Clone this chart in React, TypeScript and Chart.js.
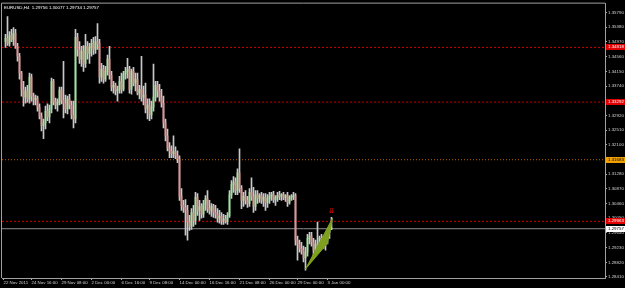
import React, { useEffect, useRef } from "react";
import { Chart, registerables } from "chart.js";
Chart.register(...registerables);

const SYMBOL = "EURUSD,H4";

// H4 bars, index 1..164
const OPEN = [
  1.3498, 1.3507, 1.3493, 1.3515, 1.3504, 1.3521, 1.3485, 1.3457, 1.3410, 1.3365,
  1.3343, 1.3360, 1.3338, 1.3399, 1.3346, 1.3335, 1.3340, 1.3315, 1.3290, 1.3263,
  1.3271, 1.3304, 1.3288, 1.3310, 1.3387, 1.3332, 1.3321, 1.3329, 1.3363, 1.3335,
  1.3326, 1.3310, 1.3338, 1.3321, 1.3293, 1.3282, 1.3510, 1.3476, 1.3449, 1.3471,
  1.3437, 1.3485, 1.3465, 1.3482, 1.3493, 1.3476, 1.3498, 1.3493, 1.3399, 1.3421,
  1.3393, 1.3415, 1.3449, 1.3404, 1.3371, 1.3376, 1.3360, 1.3365, 1.3387, 1.3365,
  1.3407, 1.3415, 1.3421, 1.3365, 1.3415, 1.3382, 1.3393, 1.3354, 1.3365, 1.3343,
  1.3349, 1.3310, 1.3321, 1.3293, 1.3315, 1.3343, 1.3376, 1.3360, 1.3343, 1.3326,
  1.3271, 1.3235, 1.3202, 1.3193, 1.3185, 1.3191, 1.3179, 1.3171, 1.3066, 1.3041,
  1.3035, 1.3027, 1.2994, 1.2982, 1.3021, 1.2999, 1.3063, 1.3027, 1.3038, 1.3016,
  1.3044, 1.3060, 1.3032, 1.3027, 1.3038, 1.3021, 1.3016, 1.3005, 1.3010, 1.2999,
  1.3002, 1.2996, 1.3013, 1.3071, 1.3099, 1.3105, 1.3082, 1.3132, 1.3088, 1.3055,
  1.3066, 1.3055, 1.3046, 1.3077, 1.3066, 1.3038, 1.3071, 1.3060, 1.3068, 1.3055,
  1.3063, 1.3049, 1.3060, 1.3066, 1.3071, 1.3057, 1.3063, 1.3068, 1.3066, 1.3071,
  1.3063, 1.3068, 1.3049, 1.3063, 1.3066, 1.3068, 1.2944, 1.2933, 1.2921, 1.2916,
  1.2894, 1.2910, 1.2949, 1.2955, 1.2938, 1.2916, 1.2933, 1.2927, 1.2949, 1.2944,
  1.2930, 1.2955, 1.2966, 1.29756,
];
const HIGH = [
  1.3518, 1.3568, 1.3526, 1.3532, 1.3537, 1.3532, 1.3493, 1.3465, 1.3415, 1.3387,
  1.3371, 1.3376, 1.3410, 1.3407, 1.3354, 1.3349, 1.3346, 1.3324, 1.3299, 1.3282,
  1.3318, 1.3324, 1.3321, 1.3396, 1.3393, 1.3340, 1.3338, 1.3371, 1.3371, 1.3443,
  1.3349, 1.3346, 1.3351, 1.3332, 1.3332, 1.3532, 1.3521, 1.3498, 1.3485, 1.3487,
  1.3518, 1.3498, 1.3493, 1.3504, 1.3510, 1.3512, 1.3548, 1.3504, 1.3437, 1.3432,
  1.3429, 1.3460, 1.3485, 1.3415, 1.3387, 1.3382, 1.3374, 1.3401, 1.3410, 1.3415,
  1.3426, 1.3451, 1.3429, 1.3421, 1.3426, 1.3410, 1.3410, 1.3376, 1.3457, 1.3374,
  1.3382, 1.3338, 1.3338, 1.3332, 1.3435, 1.3387, 1.3387, 1.3379, 1.3365, 1.3346,
  1.3282, 1.3254, 1.3216, 1.3207, 1.3235, 1.3204, 1.3193, 1.3179, 1.3088, 1.3055,
  1.3057, 1.3041, 1.3013, 1.3032, 1.3041, 1.3077, 1.3074, 1.3055, 1.3046, 1.3055,
  1.3068, 1.3082, 1.3055, 1.3046, 1.3044, 1.3041, 1.3032, 1.3027, 1.3021, 1.3016,
  1.3013, 1.3021, 1.3082, 1.3110, 1.3121, 1.3118, 1.3143, 1.3199, 1.3096, 1.3077,
  1.3082, 1.3066, 1.3088, 1.3118, 1.3091, 1.3082, 1.3082, 1.3074, 1.3077, 1.3074,
  1.3074, 1.3071, 1.3077, 1.3077, 1.3080, 1.3068, 1.3077, 1.3080, 1.3074, 1.3077,
  1.3071, 1.3077, 1.3068, 1.3071, 1.3077, 1.3074, 1.2955, 1.2944, 1.2938, 1.2927,
  1.2924, 1.2960, 1.2966, 1.2966, 1.2949, 1.2944, 1.2994, 1.2955, 1.2960, 1.2955,
  1.2963, 1.2971, 1.2982, 1.30077,
];
const LOW = [
  1.3482, 1.3487, 1.3485, 1.3498, 1.3487, 1.3479, 1.3443, 1.3393, 1.3346, 1.3318,
  1.3326, 1.3329, 1.3326, 1.3332, 1.3321, 1.3321, 1.3304, 1.3282, 1.3249, 1.3227,
  1.3254, 1.3277, 1.3271, 1.3299, 1.3321, 1.3310, 1.3304, 1.3321, 1.3324, 1.3285,
  1.3299, 1.3296, 1.3310, 1.3282, 1.3257, 1.3271, 1.3457, 1.3437, 1.3429, 1.3415,
  1.3426, 1.3449, 1.3437, 1.3457, 1.3462, 1.3465, 1.3476, 1.3382, 1.3387, 1.3382,
  1.3387, 1.3404, 1.3393, 1.3360, 1.3354, 1.3349, 1.3332, 1.3354, 1.3354, 1.3360,
  1.3393, 1.3396, 1.3354, 1.3351, 1.3374, 1.3360, 1.3349, 1.3338, 1.3332, 1.3321,
  1.3299, 1.3282, 1.3277, 1.3282, 1.3304, 1.3332, 1.3343, 1.3332, 1.3315, 1.3257,
  1.3221, 1.3193, 1.3174, 1.3174, 1.3174, 1.3171, 1.3160, 1.3055, 1.3027, 1.3021,
  1.2958, 1.2944, 1.2971, 1.2974, 1.2982, 1.2988, 1.3013, 1.2999, 1.3005, 1.3007,
  1.3027, 1.3021, 1.3016, 1.3010, 1.3007, 1.3005, 1.2994, 1.2991, 1.2988, 1.2988,
  1.2991, 1.2988, 1.3007, 1.3060, 1.3077, 1.3071, 1.3071, 1.3077, 1.3032, 1.3038,
  1.3044, 1.3035, 1.3038, 1.3055, 1.3021, 1.3027, 1.3046, 1.3049, 1.3046, 1.3038,
  1.3027, 1.3035, 1.3046, 1.3055, 1.3049, 1.3041, 1.3052, 1.3057, 1.3055, 1.3057,
  1.3052, 1.3038, 1.3044, 1.3055, 1.3057, 1.2930, 1.2888, 1.2910, 1.2905, 1.2883,
  1.2860, 1.2899, 1.2933, 1.2927, 1.2896, 1.2905, 1.2921, 1.2916, 1.2927, 1.2921,
  1.2916, 1.2933, 1.2949, 1.29734,
];
const CLOSE = [
  1.3507, 1.3493, 1.3515, 1.3504, 1.3521, 1.3485, 1.3457, 1.3410, 1.3365, 1.3343,
  1.3360, 1.3338, 1.3399, 1.3346, 1.3335, 1.3340, 1.3315, 1.3290, 1.3263, 1.3271,
  1.3304, 1.3288, 1.3310, 1.3387, 1.3332, 1.3321, 1.3329, 1.3363, 1.3335, 1.3326,
  1.3310, 1.3338, 1.3321, 1.3293, 1.3282, 1.3510, 1.3476, 1.3449, 1.3471, 1.3437,
  1.3485, 1.3465, 1.3482, 1.3493, 1.3476, 1.3498, 1.3493, 1.3399, 1.3421, 1.3393,
  1.3415, 1.3449, 1.3404, 1.3371, 1.3376, 1.3360, 1.3365, 1.3387, 1.3365, 1.3407,
  1.3415, 1.3421, 1.3365, 1.3415, 1.3382, 1.3393, 1.3354, 1.3365, 1.3343, 1.3349,
  1.3310, 1.3321, 1.3293, 1.3315, 1.3343, 1.3376, 1.3360, 1.3343, 1.3326, 1.3271,
  1.3235, 1.3202, 1.3193, 1.3185, 1.3191, 1.3179, 1.3171, 1.3066, 1.3041, 1.3035,
  1.3027, 1.2994, 1.2982, 1.3021, 1.2999, 1.3063, 1.3027, 1.3038, 1.3016, 1.3044,
  1.3060, 1.3032, 1.3027, 1.3038, 1.3021, 1.3016, 1.3005, 1.3010, 1.2999, 1.3002,
  1.2996, 1.3013, 1.3071, 1.3099, 1.3105, 1.3082, 1.3132, 1.3088, 1.3055, 1.3066,
  1.3055, 1.3046, 1.3077, 1.3066, 1.3038, 1.3071, 1.3060, 1.3068, 1.3055, 1.3063,
  1.3049, 1.3060, 1.3066, 1.3071, 1.3057, 1.3063, 1.3068, 1.3066, 1.3071, 1.3063,
  1.3068, 1.3049, 1.3063, 1.3066, 1.3068, 1.2944, 1.2933, 1.2921, 1.2916, 1.2894,
  1.2910, 1.2949, 1.2955, 1.2938, 1.2916, 1.2933, 1.2927, 1.2949, 1.2944, 1.2930,
  1.2955, 1.2966, 1.2977, 1.29757,
];

const TIME_TICK_IDX = [0, 14, 29, 44, 59, 73, 88, 103, 118, 133, 147, 162];
const TIME_LABELS = [
  "22 Nov 2011", "24 Nov 16:00", "29 Nov 08:00", "2 Dec 00:00", "6 Dec 16:00",
  "9 Dec 08:00", "14 Dec 00:00", "16 Dec 16:00", "21 Dec 08:00", "26 Dec 00:00",
  "29 Dec 00:00", "3 Jan 00:00",
];
const PRICE_TICKS = [
  1.2841, 1.2882, 1.2923, 1.2964, 1.3005, 1.3046, 1.3087, 1.3128, 1.3169, 1.321,
  1.3251, 1.3292, 1.3333, 1.3374, 1.3415, 1.3456, 1.3497, 1.3538, 1.3579,
];
const RED_LEVELS = [1.34818, 1.33292, 1.29963];
const ORANGE_LEVELS = [1.31683];
const BID = 1.29757;
const WEDGE_IDX = [151, 164.5, 162, 151];
const WEDGE_PRICE = [1.28632, 1.30047, 1.29353, 1.28632];
const ARROW_IDX = 164;
const ARROW_PRICE = 1.3026;

const Y_MIN = 1.28382;
const Y_MAX = 1.36039;
const X_MIN = -0.75;
const X_MAX = 300.75;
const FONT = '"Liberation Sans", Arial, sans-serif';

export default function App() {
  const ref = useRef<HTMLCanvasElement | null>(null);
  useEffect(() => {
    document.body.style.margin = "0";
    document.body.style.background = "#000";
    const canvas = ref.current!;
    const idx = CLOSE.map((_, i) => i + 1);
    const wicks = idx.map((k, i) => ({ x: k, y: [LOW[i], HIGH[i]] }));
    const bodies = idx.map((k, i) => ({ x: k, y: [OPEN[i], CLOSE[i]] }));
    const bodyColors = idx.map((_, i) => (CLOSE[i] >= OPEN[i] ? "#8cf08c" : "#f48a8a"));
    const hline = (v: number) => [{ x: X_MIN, y: v }, { x: X_MAX, y: v }];

    const lineDs = (v: number, color: string, dash: number[]) => ({
      type: "line",
      data: hline(v),
      borderColor: color,
      borderWidth: 1,
      borderDash: dash,
      pointRadius: 0,
      fill: false,
      order: 5,
    });

    const overlay = {
      id: "overlay",
      beforeDraw(chart: any) {
        const c = chart.ctx;
        c.save();
        c.fillStyle = "#000";
        c.fillRect(0, 0, chart.width, chart.height);
        c.restore();
      },
      afterDraw(chart: any) {
        const c = chart.ctx;
        const ca = chart.chartArea;
        const ys = chart.scales.y;
        const xs = chart.scales.x;
        c.save();
        c.strokeStyle = "#a0a0a0";
        c.lineWidth = 1;
        c.beginPath();
        c.moveTo(ca.left - 0.5, ca.bottom);
        c.lineTo(ca.left - 0.5, ca.top - 0.5);
        c.lineTo(ca.right, ca.top - 0.5);
        c.stroke();
        const n = CLOSE.length - 1;
        const header = `${SYMBOL}  ${OPEN[n].toFixed(5)} ${HIGH[n].toFixed(5)} ${LOW[n].toFixed(5)} ${CLOSE[n].toFixed(5)}`;
        c.font = `4.4px ${FONT}`;
        c.fillStyle = "#ffffff";
        c.textBaseline = "middle";
        c.textAlign = "left";
        c.fillText(header, 4, 7.5);
        const box = (v: number, bg: string, fg: string) => {
          const y = ys.getPixelForValue(v);
          c.fillStyle = bg;
          c.fillRect(ca.right + 1, Math.round(y) - 3, 19, 6);
          c.fillStyle = fg;
          c.fillText(v.toFixed(5), ca.right + 3, Math.round(y));
        };
        RED_LEVELS.forEach((v) => box(v, "#e00000", "#ffffff"));
        ORANGE_LEVELS.forEach((v) => box(v, "#f0a000", "#000000"));
        box(BID, "#ffffff", "#000000");
        c.fillStyle = "#e00000";
        c.font = `7px "DejaVu Sans"`;
        c.textAlign = "center";
        c.fillText("\u21ca", xs.getPixelForValue(ARROW_IDX), ys.getPixelForValue(ARROW_PRICE));
        c.restore();
      },
    };

    const chart = new Chart(canvas, {
      type: "bar",
      data: {
        datasets: [
          {
            data: bodies,
            backgroundColor: bodyColors,
            barThickness: 1,
            minBarLength: 1,
            borderWidth: 0,
            grouped: false,
            order: 1,
          },
          {
            data: wicks,
            backgroundColor: "#c8c8c8",
            barThickness: 1,
            minBarLength: 1,
            borderWidth: 0,
            grouped: false,
            order: 2,
          },
          lineDs(RED_LEVELS[0], "#d00000", [2, 2]),
          lineDs(RED_LEVELS[1], "#c00000", [2, 2]),
          lineDs(ORANGE_LEVELS[0], "#b86a00", [1, 2]),
          lineDs(RED_LEVELS[2], "#d00000", [2, 2]),
          lineDs(BID, "#8c8c8c", []),
          {
            type: "line",
            data: WEDGE_IDX.map((x, i) => ({ x, y: WEDGE_PRICE[i] })),
            borderColor: "#7fa01e",
            backgroundColor: "#7fa01e",
            borderWidth: 1,
            pointRadius: 0,
            fill: "shape",
            tension: 0,
            order: 0,
          },
        ] as any,
      },
      options: {
        animation: false,
        responsive: false,
        maintainAspectRatio: false,
        events: [],
        layout: { padding: { left: 2, top: 2, right: 0, bottom: 0 } },
        plugins: { legend: { display: false }, tooltip: { enabled: false } },
        scales: {
          x: {
            type: "linear",
            min: X_MIN,
            max: X_MAX,
            offset: false,
            afterBuildTicks: (s: any) => {
              s.ticks = TIME_TICK_IDX.map((v) => ({ value: v }));
            },
            afterFit: (s: any) => {
              s.height = 10;
            },
            ticks: {
              align: "start",
              autoSkip: false,
              maxRotation: 0,
              minRotation: 0,
              padding: 0,
              color: "#d0d0d0",
              font: { family: FONT, size: 4.4 },
              callback: (_v: any, i: number) => TIME_LABELS[i],
            },
            grid: { drawOnChartArea: false, drawTicks: true, tickLength: 2, color: "#b0b0b0", offset: false },
            border: { display: true, color: "#a0a0a0" },
          },
          y: {
            type: "linear",
            position: "right",
            min: Y_MIN,
            max: Y_MAX,
            afterBuildTicks: (s: any) => {
              s.ticks = PRICE_TICKS.map((v) => ({ value: v }));
            },
            afterFit: (s: any) => {
              s.width = 20;
            },
            ticks: {
              padding: 1,
              color: "#d0d0d0",
              font: { family: FONT, size: 4.4 },
              callback: (v: any) => Number(v).toFixed(5),
            },
            grid: { drawOnChartArea: false, drawTicks: true, tickLength: 2, color: "#b0b0b0" },
            border: { display: true, color: "#a0a0a0" },
          },
        },
      } as any,
      plugins: [overlay],
    });
    return () => chart.destroy();
  }, []);
  return (
    <div style={{ width: 625, height: 288, background: "#000" }}>
      <canvas ref={ref} width={625} height={288} style={{ display: "block" }} />
    </div>
  );
}
